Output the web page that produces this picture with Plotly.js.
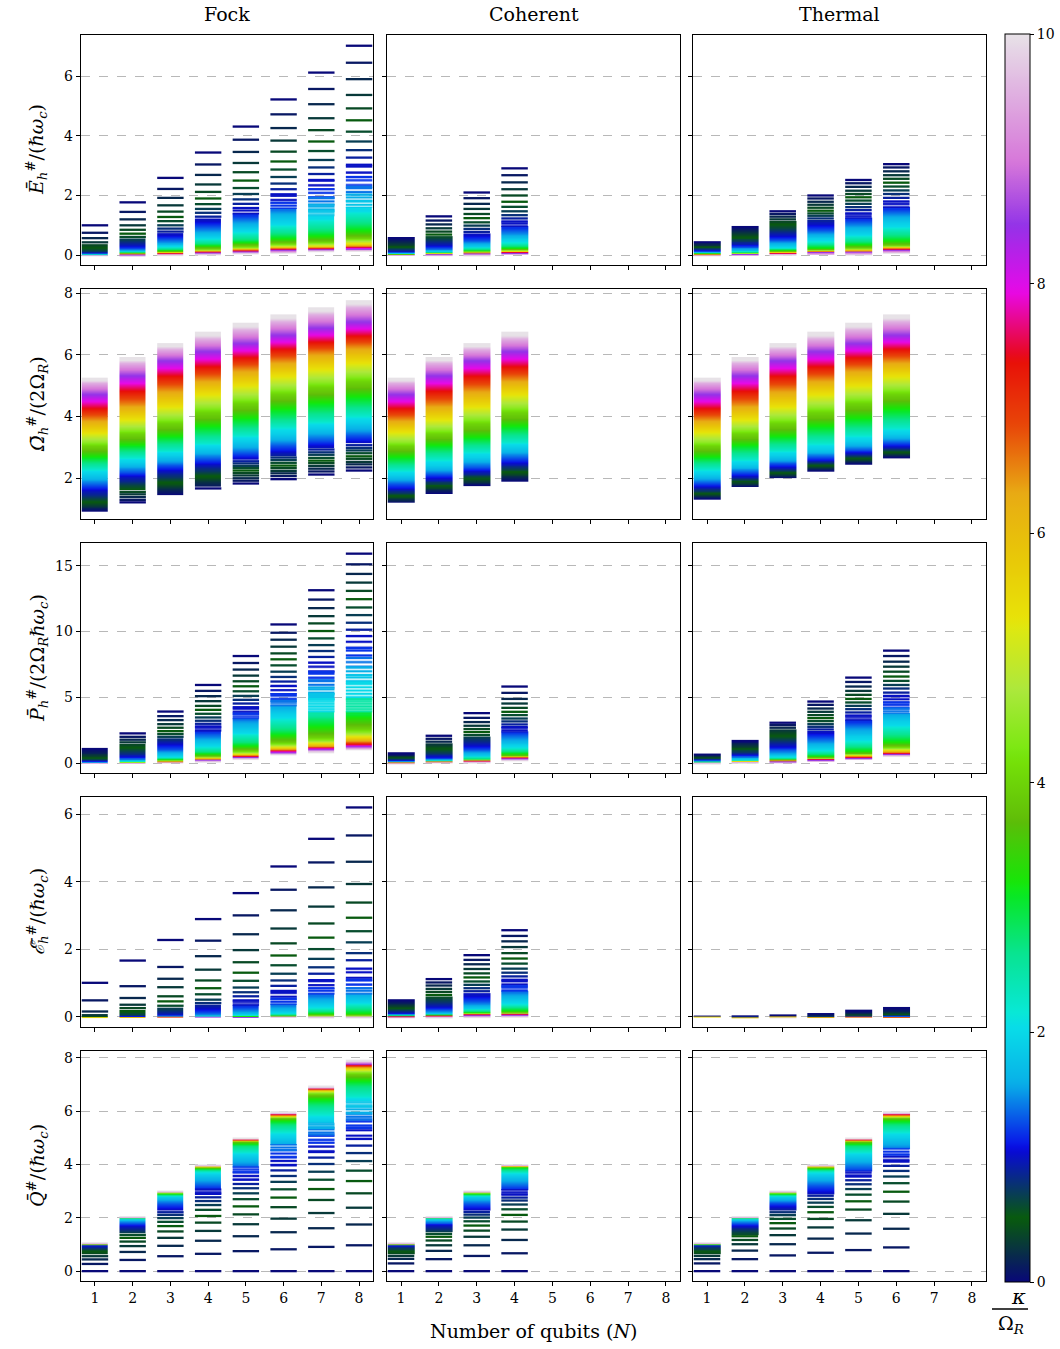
<!DOCTYPE html>
<html><head><meta charset="utf-8">
<script src="https://cdn.plot.ly/plotly-3.0.1.min.js"></script>
<style>html,body{margin:0;padding:0;background:#fff}#chart{width:1060px;height:1349px}</style>
</head><body><div id="chart"></div>
<script>
// coupling levels kappa / Omega_R
const kappa = [0,0.1,0.2,0.3,0.4,0.5,0.6,0.7,0.8,0.9,1,1.2,1.4,1.6,1.8,2,2.5,3,3.5,4,5,6,7,8,9,10];
const qubitTicks = [1,2,3,4,5,6,7,8];

// ---- Row 1: ergotropy E_h / (hbar w_c) ----
const fockE = [
 [1.00,0.75,0.57,0.43,0.33,0.26,0.20,0.16,0.12,0.10,0.08,0.056,0.045,0.035,0.03,0.022,0.017,0.011,0.008,0.006,0.004,0.003,0.002,0.001,0.001,0],
 [1.77,1.45,1.20,1.00,0.85,0.72,0.61,0.52,0.45,0.38,0.32,0.25,0.20,0.17,0.14,0.12,0.10,0.08,0.07,0.06,0.05,0.045,0.035,0.02,0.01,0],
 [2.59,2.22,1.92,1.67,1.46,1.28,1.14,1.00,0.89,0.79,0.70,0.58,0.48,0.40,0.35,0.30,0.22,0.18,0.14,0.12,0.10,0.08,0.07,0.06,0.03,0.02],
 [3.44,3.04,2.69,2.37,2.12,1.90,1.71,1.55,1.42,1.29,1.19,1.03,0.88,0.77,0.68,0.60,0.45,0.35,0.28,0.23,0.18,0.14,0.12,0.10,0.08,0.04],
 [4.31,3.87,3.46,3.09,2.78,2.50,2.25,2.05,1.87,1.72,1.58,1.36,1.19,1.05,0.94,0.84,0.61,0.47,0.38,0.31,0.23,0.19,0.17,0.14,0.11,0.07],
 [5.22,4.72,4.26,3.84,3.47,3.14,2.87,2.62,2.40,2.21,2.04,1.76,1.55,1.38,1.23,1.08,0.80,0.61,0.49,0.41,0.31,0.26,0.22,0.19,0.14,0.10],
 [6.12,5.57,5.06,4.59,4.19,3.81,3.49,3.19,2.94,2.72,2.52,2.21,1.92,1.69,1.49,1.30,0.97,0.71,0.56,0.45,0.33,0.28,0.25,0.22,0.18,0.13],
 [7.02,6.45,5.90,5.37,4.92,4.52,4.14,3.81,3.52,3.27,3.03,2.62,2.29,2.03,1.81,1.58,1.19,0.91,0.71,0.58,0.43,0.36,0.29,0.25,0.20,0.16]
];
const cohE = [
 [0.57,0.50,0.43,0.38,0.32,0.28,0.25,0.21,0.18,0.16,0.13,0.11,0.09,0.08,0.07,0.06,0.045,0.035,0.025,0.02,0.017,0.012,0.008,0.005,0.003,0],
 [1.30,1.16,1.03,0.90,0.79,0.69,0.60,0.52,0.46,0.39,0.33,0.26,0.20,0.17,0.14,0.12,0.10,0.08,0.075,0.07,0.06,0.055,0.045,0.03,0.02,0],
 [2.10,1.91,1.72,1.55,1.38,1.24,1.10,0.99,0.88,0.78,0.69,0.56,0.46,0.38,0.32,0.28,0.21,0.17,0.14,0.12,0.10,0.09,0.08,0.06,0.03,0.01],
 [2.91,2.68,2.44,2.21,2.00,1.79,1.62,1.47,1.34,1.23,1.13,0.94,0.78,0.67,0.57,0.49,0.36,0.27,0.21,0.18,0.14,0.12,0.11,0.10,0.07,0.03]
];
const therE = [
 [0.43,0.40,0.37,0.33,0.30,0.28,0.26,0.23,0.21,0.19,0.17,0.14,0.12,0.11,0.10,0.09,0.07,0.055,0.05,0.045,0.035,0.03,0.02,0.01,0.01,0],
 [0.94,0.87,0.80,0.74,0.67,0.61,0.56,0.50,0.46,0.41,0.37,0.30,0.25,0.20,0.17,0.14,0.11,0.09,0.08,0.07,0.055,0.05,0.045,0.03,0.02,0],
 [1.47,1.38,1.29,1.20,1.11,1.04,0.96,0.88,0.81,0.75,0.68,0.57,0.48,0.40,0.35,0.30,0.22,0.18,0.14,0.13,0.11,0.10,0.08,0.07,0.045,0.01],
 [2.00,1.90,1.79,1.69,1.59,1.49,1.40,1.32,1.23,1.14,1.06,0.90,0.78,0.68,0.60,0.52,0.38,0.28,0.22,0.19,0.16,0.13,0.12,0.11,0.08,0.03],
 [2.52,2.41,2.29,2.16,2.05,1.94,1.83,1.72,1.61,1.51,1.40,1.22,1.06,0.94,0.82,0.72,0.52,0.39,0.31,0.26,0.20,0.17,0.14,0.12,0.09,0.04],
 [3.05,2.94,2.81,2.68,2.56,2.43,2.30,2.17,2.05,1.92,1.80,1.58,1.42,1.27,1.14,1.00,0.75,0.56,0.43,0.36,0.29,0.26,0.22,0.19,0.14,0.09]
];

// ---- Row 2: Omega_h / (2 Omega_R) ----
const fockW = [
 [0.97,1.02,1.07,1.12,1.18,1.24,1.30,1.37,1.44,1.52,1.60,1.74,1.86,1.97,2.08,2.19,2.41,2.64,2.83,3.03,3.34,3.77,4.06,4.56,4.95,5.22],
 [1.22,1.30,1.39,1.48,1.56,1.65,1.73,1.81,1.89,1.96,2.03,2.16,2.27,2.38,2.48,2.57,2.80,3.01,3.21,3.39,3.77,4.20,4.63,5.14,5.57,5.89],
 [1.49,1.56,1.64,1.71,1.79,1.86,1.94,2.01,2.09,2.17,2.23,2.36,2.48,2.59,2.69,2.79,3.02,3.29,3.50,3.72,4.20,4.63,5.12,5.63,6.03,6.34],
 [1.67,1.76,1.84,1.92,1.99,2.07,2.14,2.22,2.30,2.37,2.45,2.57,2.70,2.82,2.93,3.03,3.29,3.59,3.85,4.08,4.58,5.01,5.46,5.92,6.35,6.71],
 [1.83,1.92,2.00,2.09,2.17,2.25,2.33,2.40,2.48,2.55,2.64,2.77,2.90,3.03,3.15,3.26,3.55,3.84,4.12,4.36,4.88,5.31,5.76,6.19,6.62,7.00],
 [1.97,2.07,2.16,2.24,2.33,2.41,2.50,2.59,2.67,2.76,2.84,2.99,3.13,3.26,3.39,3.51,3.82,4.15,4.42,4.66,5.17,5.60,6.03,6.46,6.89,7.27],
 [2.12,2.22,2.31,2.40,2.49,2.57,2.66,2.76,2.84,2.93,3.02,3.17,3.32,3.45,3.58,3.69,4.02,4.34,4.63,4.88,5.42,5.85,6.28,6.68,7.11,7.50],
 [2.25,2.35,2.45,2.53,2.63,2.71,2.81,2.90,2.98,3.07,3.16,3.32,3.47,3.61,3.74,3.87,4.19,4.53,4.82,5.06,5.60,6.08,6.49,6.86,7.32,7.73]
];
const cohW = [
 [1.24,1.27,1.30,1.35,1.39,1.43,1.48,1.52,1.56,1.61,1.66,1.76,1.86,1.96,2.07,2.17,2.40,2.64,2.83,3.03,3.36,3.77,4.06,4.56,4.95,5.22],
 [1.54,1.59,1.63,1.67,1.71,1.76,1.80,1.84,1.89,1.93,1.97,2.08,2.19,2.28,2.38,2.48,2.75,2.99,3.20,3.39,3.77,4.20,4.63,5.14,5.57,5.89],
 [1.78,1.82,1.86,1.91,1.95,1.99,2.04,2.08,2.12,2.17,2.21,2.32,2.42,2.53,2.64,2.75,2.99,3.26,3.49,3.72,4.20,4.63,5.12,5.63,6.03,6.34],
 [1.94,1.99,2.05,2.10,2.16,2.21,2.26,2.32,2.37,2.42,2.49,2.61,2.73,2.84,2.96,3.07,3.33,3.63,3.87,4.08,4.58,5.01,5.46,5.92,6.35,6.71]
];
const therW = [
 [1.35,1.38,1.41,1.44,1.48,1.51,1.55,1.58,1.63,1.67,1.71,1.81,1.91,2.00,2.10,2.20,2.42,2.64,2.83,3.03,3.36,3.77,4.06,4.56,4.95,5.22],
 [1.75,1.78,1.81,1.84,1.88,1.91,1.94,1.97,2.00,2.04,2.07,2.16,2.24,2.33,2.41,2.50,2.75,2.99,3.20,3.39,3.77,4.20,4.63,5.14,5.57,5.89],
 [2.03,2.06,2.09,2.12,2.16,2.19,2.22,2.25,2.28,2.32,2.35,2.43,2.52,2.61,2.69,2.78,3.02,3.29,3.50,3.72,4.20,4.63,5.12,5.63,6.03,6.34],
 [2.26,2.30,2.33,2.35,2.38,2.41,2.45,2.48,2.51,2.54,2.57,2.66,2.75,2.83,2.92,3.01,3.29,3.59,3.85,4.08,4.58,5.01,5.46,5.92,6.35,6.71],
 [2.48,2.51,2.54,2.57,2.61,2.64,2.67,2.70,2.74,2.77,2.80,2.89,2.97,3.07,3.16,3.24,3.55,3.84,4.12,4.36,4.88,5.31,5.76,6.19,6.62,7.00],
 [2.69,2.73,2.76,2.79,2.82,2.85,2.89,2.92,2.95,2.98,3.02,3.11,3.21,3.31,3.40,3.50,3.82,4.15,4.42,4.66,5.17,5.60,6.03,6.46,6.89,7.27]
];

// ---- Row 3: power P_h / (2 Omega_R hbar w_c) ----
const fockP = [
 [1.06,0.88,0.73,0.61,0.51,0.40,0.33,0.28,0.23,0.18,0.15,0.10,0.08,0.05,0.04,0.03,0.025,0.02,0.015,0.012,0.01,0.008,0.006,0.004,0.002,0],
 [2.25,1.99,1.77,1.57,1.36,1.19,1.04,0.88,0.76,0.66,0.56,0.40,0.30,0.23,0.18,0.15,0.10,0.08,0.06,0.05,0.04,0.03,0.02,0.01,0.01,0],
 [3.91,3.56,3.26,2.95,2.68,2.42,2.20,1.99,1.79,1.62,1.46,1.19,0.96,0.78,0.66,0.56,0.38,0.28,0.23,0.20,0.15,0.13,0.10,0.08,0.05,0.03],
 [5.93,5.48,5.08,4.70,4.34,4.04,3.74,3.46,3.21,2.98,2.78,2.37,2.05,1.79,1.57,1.36,1.01,0.76,0.61,0.51,0.40,0.35,0.30,0.25,0.20,0.13],
 [8.13,7.60,7.10,6.64,6.21,5.83,5.45,5.10,4.80,4.52,4.24,3.76,3.33,2.98,2.65,2.37,1.82,1.41,1.14,0.96,0.76,0.66,0.58,0.51,0.43,0.33],
 [10.53,9.90,9.37,8.84,8.33,7.88,7.42,6.94,6.54,6.19,5.86,5.23,4.72,4.29,3.91,3.59,2.83,2.25,1.87,1.57,1.26,1.09,0.98,0.88,0.78,0.63],
 [13.13,12.42,11.77,11.16,10.61,10.03,9.47,8.96,8.51,8.06,7.63,6.92,6.29,5.73,5.23,4.85,3.84,3.01,2.37,1.94,1.57,1.36,1.21,1.11,1.01,0.86],
 [15.91,15.10,14.37,13.71,13.08,12.45,11.82,11.24,10.66,10.13,9.65,8.74,7.98,7.27,6.67,6.11,4.85,3.84,3.08,2.58,2.07,1.77,1.52,1.36,1.24,1.06]
];
const cohP = [
 [0.73,0.66,0.58,0.51,0.45,0.40,0.35,0.30,0.28,0.25,0.23,0.18,0.15,0.13,0.10,0.09,0.08,0.05,0.045,0.04,0.03,0.03,0.02,0.01,0.01,0],
 [2.07,1.84,1.62,1.41,1.24,1.09,0.93,0.81,0.71,0.61,0.53,0.40,0.33,0.28,0.23,0.20,0.18,0.15,0.14,0.13,0.12,0.10,0.09,0.08,0.05,0.03],
 [3.79,3.43,3.11,2.83,2.58,2.35,2.12,1.92,1.74,1.57,1.41,1.14,0.91,0.76,0.63,0.53,0.38,0.30,0.28,0.25,0.23,0.20,0.18,0.15,0.10,0.05],
 [5.81,5.33,4.87,4.52,4.19,3.89,3.64,3.38,3.16,2.93,2.73,2.32,1.99,1.72,1.49,1.31,0.98,0.78,0.66,0.58,0.51,0.45,0.43,0.40,0.33,0.23]
];
const therP = [
 [0.63,0.58,0.53,0.48,0.43,0.40,0.35,0.33,0.30,0.28,0.25,0.20,0.18,0.15,0.13,0.11,0.10,0.08,0.06,0.05,0.05,0.04,0.03,0.02,0.01,0],
 [1.67,1.57,1.44,1.31,1.21,1.11,1.01,0.91,0.83,0.76,0.68,0.56,0.45,0.38,0.33,0.28,0.20,0.18,0.16,0.15,0.13,0.12,0.10,0.09,0.08,0.03],
 [3.06,2.88,2.68,2.47,2.30,2.12,1.94,1.79,1.64,1.49,1.34,1.11,0.91,0.76,0.63,0.53,0.38,0.30,0.25,0.23,0.20,0.18,0.15,0.13,0.10,0.05],
 [4.67,4.42,4.14,3.89,3.64,3.41,3.18,2.95,2.75,2.55,2.35,2.02,1.72,1.46,1.24,1.06,0.76,0.56,0.45,0.40,0.35,0.33,0.30,0.28,0.23,0.15],
 [6.49,6.16,5.81,5.48,5.18,4.87,4.60,4.34,4.09,3.84,3.61,3.18,2.80,2.45,2.15,1.89,1.36,1.04,0.83,0.73,0.61,0.53,0.48,0.43,0.38,0.30],
 [8.54,8.13,7.70,7.32,6.94,6.57,6.24,5.93,5.66,5.35,5.10,4.60,4.14,3.71,3.33,3.01,2.32,1.82,1.44,1.24,1.01,0.91,0.81,0.73,0.66,0.56]
];

// ---- Row 4: script-E_h / (hbar w_c) ----
const fockS = [
 [1.01,0.49,0.16,0.05,0.02,0.01,0.005,0.003,0.002,0.001,0.001,0,0,0,0,0,0,0,0,0,0,0,0,0,0,0],
 [1.67,0.91,0.56,0.36,0.26,0.17,0.11,0.07,0.04,0.03,0.02,0.01,0.005,0.003,0.002,0.001,0,0,0,0,0,0,0,0,0,0],
 [2.28,1.48,1.13,0.88,0.61,0.46,0.33,0.24,0.17,0.12,0.08,0.05,0.03,0.02,0.01,0.008,0.005,0.003,0.002,0.001,0,0,0,0,0,0],
 [2.90,2.26,1.80,1.40,1.08,0.85,0.67,0.51,0.41,0.33,0.26,0.15,0.09,0.06,0.04,0.03,0.02,0.01,0.007,0.005,0.003,0.002,0.001,0,0,0],
 [3.67,3.01,2.45,1.98,1.62,1.31,1.07,0.87,0.73,0.61,0.49,0.32,0.20,0.13,0.09,0.06,0.03,0.02,0.01,0.007,0.004,0.002,0.001,0,0,0],
 [4.46,3.77,3.16,2.62,2.18,1.82,1.53,1.28,1.08,0.92,0.77,0.54,0.36,0.26,0.19,0.14,0.08,0.05,0.03,0.02,0.01,0.005,0.003,0.002,0.001,0],
 [5.28,4.58,3.84,3.27,2.77,2.35,2.01,1.72,1.47,1.28,1.09,0.85,0.66,0.51,0.40,0.32,0.19,0.11,0.07,0.05,0.03,0.02,0.01,0.005,0.003,0],
 [6.21,5.38,4.60,3.94,3.39,2.94,2.54,2.21,1.89,1.68,1.43,1.10,0.85,0.66,0.53,0.45,0.30,0.15,0.08,0.04,0.015,0.008,0.005,0.003,0.002,0]
];
const cohS = [
 [0.49,0.44,0.39,0.34,0.31,0.27,0.23,0.20,0.17,0.15,0.13,0.10,0.08,0.07,0.06,0.05,0.04,0.03,0.025,0.02,0.015,0.01,0.008,0.005,0.003,0],
 [1.12,1.02,0.93,0.83,0.74,0.65,0.57,0.50,0.43,0.37,0.33,0.25,0.19,0.15,0.12,0.10,0.07,0.06,0.055,0.05,0.045,0.04,0.035,0.03,0.02,0],
 [1.83,1.69,1.56,1.42,1.29,1.17,1.05,0.95,0.85,0.76,0.67,0.53,0.42,0.34,0.29,0.25,0.18,0.14,0.12,0.11,0.10,0.09,0.08,0.06,0.04,0.01],
 [2.57,2.40,2.24,2.07,1.89,1.73,1.58,1.43,1.31,1.20,1.10,0.91,0.74,0.61,0.51,0.43,0.30,0.22,0.17,0.14,0.11,0.10,0.09,0.07,0.05,0.02]
];
const therS = [
 [0.005,0.004,0.003,0.003,0.002,0.002,0.002,0.001,0.001,0.001,0.001,0,0,0,0,0,0,0,0,0,0,0,0,0,0,0],
 [0.012,0.01,0.008,0.006,0.005,0.004,0.003,0.003,0.002,0.002,0.002,0.001,0.001,0.001,0,0,0,0,0,0,0,0,0,0,0,0],
 [0.04,0.03,0.022,0.016,0.012,0.009,0.007,0.005,0.004,0.003,0.003,0.002,0.001,0.001,0.001,0,0,0,0,0,0,0,0,0,0,0],
 [0.08,0.06,0.045,0.035,0.027,0.02,0.016,0.013,0.01,0.008,0.006,0.004,0.003,0.002,0.002,0.001,0.001,0,0,0,0,0,0,0,0,0],
 [0.18,0.14,0.11,0.085,0.065,0.05,0.04,0.03,0.025,0.02,0.015,0.01,0.007,0.005,0.004,0.003,0.002,0.001,0.001,0,0,0,0,0,0,0],
 [0.26,0.21,0.17,0.135,0.105,0.085,0.067,0.053,0.042,0.033,0.026,0.017,0.012,0.008,0.006,0.004,0.002,0.001,0.001,0,0,0,0,0,0,0]
];

// ---- Row 5: heat Q / (hbar w_c) ----
const fockQ = [
 [0,0.27,0.44,0.56,0.66,0.74,0.80,0.85,0.89,0.92,0.95,0.97,0.99,0.99,1.0,1.0,1.0,1.0,1.0,1.0,1.0,1.0,1.01,1.01,1.02,1.04],
 [0,0.42,0.72,0.94,1.11,1.25,1.36,1.46,1.55,1.62,1.69,1.77,1.85,1.90,1.94,1.95,1.97,1.98,1.99,1.99,1.99,1.99,2.0,2.0,2.0,2.02],
 [0,0.56,0.95,1.25,1.49,1.69,1.85,1.99,2.11,2.21,2.31,2.46,2.58,2.68,2.76,2.81,2.87,2.91,2.92,2.93,2.94,2.95,2.95,2.96,2.96,2.98],
 [0,0.65,1.14,1.51,1.82,2.07,2.30,2.48,2.63,2.77,2.90,3.11,3.30,3.46,3.58,3.67,3.80,3.86,3.88,3.90,3.91,3.92,3.93,3.93,3.94,3.96],
 [0,0.75,1.31,1.76,2.13,2.43,2.70,2.92,3.11,3.27,3.43,3.71,3.93,4.12,4.27,4.39,4.62,4.77,4.83,4.87,4.89,4.91,4.92,4.93,4.94,4.97],
 [0,0.82,1.46,1.97,2.40,2.76,3.07,3.35,3.57,3.78,3.97,4.27,4.54,4.77,4.96,5.12,5.39,5.62,5.72,5.77,5.82,5.84,5.87,5.89,5.92,5.96],
 [0,0.91,1.61,2.18,2.67,3.08,3.43,3.73,4.02,4.26,4.47,4.82,5.13,5.37,5.57,5.74,6.08,6.39,6.54,6.64,6.74,6.79,6.83,6.85,6.88,6.92],
 [0,0.97,1.75,2.38,2.92,3.38,3.77,4.13,4.43,4.71,4.96,5.37,5.69,5.92,6.17,6.39,6.77,7.12,7.27,7.39,7.54,7.64,7.70,7.77,7.83,7.89]
];
const cohQ = [
 [0,0.29,0.46,0.57,0.67,0.75,0.81,0.86,0.90,0.92,0.95,0.97,0.99,0.99,1.0,1.0,1.0,1.0,1.0,1.0,1.0,1.0,1.01,1.01,1.02,1.04],
 [0,0.45,0.76,0.97,1.15,1.29,1.40,1.50,1.57,1.65,1.71,1.78,1.85,1.90,1.94,1.95,1.97,1.98,1.99,1.99,1.99,1.99,2.0,2.0,2.0,2.02],
 [0,0.57,0.97,1.29,1.52,1.71,1.87,2.01,2.12,2.22,2.32,2.46,2.58,2.68,2.76,2.81,2.87,2.91,2.92,2.93,2.94,2.95,2.95,2.96,2.96,2.98],
 [0,0.67,1.17,1.56,1.86,2.11,2.32,2.50,2.65,2.76,2.87,3.08,3.27,3.42,3.55,3.65,3.80,3.87,3.90,3.91,3.92,3.93,3.93,3.94,3.95,3.97]
];
const therQ = [
 [0,0.29,0.45,0.57,0.67,0.75,0.81,0.86,0.90,0.94,0.96,0.98,0.99,0.99,1.0,1.0,1.0,1.0,1.0,1.0,1.0,1.01,1.01,1.02,1.03,1.04],
 [0,0.45,0.77,1.01,1.17,1.31,1.41,1.50,1.57,1.64,1.69,1.77,1.85,1.90,1.94,1.95,1.97,1.98,1.99,1.99,1.99,1.99,2.0,2.0,2.0,2.02],
 [0,0.59,1.01,1.35,1.60,1.80,1.96,2.10,2.21,2.31,2.40,2.52,2.62,2.70,2.77,2.81,2.87,2.91,2.92,2.93,2.94,2.95,2.95,2.96,2.96,2.98],
 [0,0.69,1.22,1.64,1.96,2.21,2.41,2.57,2.71,2.83,2.93,3.12,3.30,3.45,3.57,3.66,3.80,3.86,3.88,3.90,3.91,3.92,3.93,3.93,3.94,3.96],
 [0,0.79,1.41,1.91,2.31,2.62,2.87,3.08,3.26,3.41,3.55,3.77,3.96,4.12,4.27,4.39,4.62,4.77,4.83,4.87,4.89,4.91,4.92,4.93,4.94,4.97],
 [0,0.89,1.59,2.15,2.61,2.98,3.30,3.55,3.76,3.95,4.11,4.37,4.61,4.79,4.96,5.12,5.39,5.62,5.72,5.77,5.82,5.84,5.87,5.89,5.92,5.96]
];

const colTitles = ['Fock','Coherent','Thermal'];
const rowTitles = [
 '<i>Ē</i><sub><i>h</i></sub><sup>#</sup>/(<i>ℏω</i><sub><i>c</i></sub>)',
 '<i>Ω̄</i><sub><i>h</i></sub><sup>#</sup>/(2Ω<sub><i>R</i></sub>)',
 '<i>P̄</i><sub><i>h</i></sub><sup>#</sup>/(2Ω<sub><i>R</i></sub><i>ℏω</i><sub><i>c</i></sub>)',
 '<i>ℰ̄</i><sub><i>h</i></sub><sup>#</sup>/(<i>ℏω</i><sub><i>c</i></sub>)',
 '<i>Q̄</i><sup>#</sup>/(<i>ℏω</i><sub><i>c</i></sub>)'
];
const rowRanges = [[-0.33,7.38],[0.68,8.13],[-0.76,16.72],[-0.30,6.52],[-0.37,8.26]];
const rowTicks = [[0,2,4,6],[2,4,6,8],[0,5,10,15],[0,2,4,6],[0,2,4,6,8]];
const cbTicks = [0,2,4,6,8,10];
const panels = [[fockE,cohE,therE],[fockW,cohW,therW],[fockP,cohP,therP],[fockS,cohS,therS],[fockQ,cohQ,therQ]];

// ---- gist_ncar colormap definition (slightly muted as in the printed figure) ----
const ncR = [[0,0],[0.3098,0],[0.3725,0.3993],[0.4235,0.5003],[0.5333,1],[0.7922,1],[0.8471,0.6218],[0.898,0.9235],[1,0.9961]];
const ncG = [[0,0],[0.051,0.3722],[0.1059,0],[0.1569,0.7202],[0.1608,0.7537],[0.1647,0.7752],[0.2157,1],[0.2588,0.9804],[0.2706,0.9804],[0.3176,1],[0.3686,0.8081],[0.4275,1],[0.5216,1],[0.6314,0.7292],[0.6863,0.2796],[0.7451,0],[0.7922,0],[0.8431,0.1753],[0.898,0.5],[1,0.9725]];
const ncB = [[0,0.502],[0.051,0.0222],[0.1098,1],[0.2039,1],[0.2627,0.6145],[0.3216,0],[0.4157,0],[0.4745,0.2342],[0.5333,0],[0.5804,0],[0.6314,0.0549],[0.6902,0],[0.7373,0],[0.7922,0.9738],[0.8,1],[0.8431,1],[0.898,0.9341],[1,0.9961]];
function itp(tab,t){for(let i=1;i<tab.length;i++){if(t<=tab[i][0]){const a=tab[i-1],b=tab[i];return a[1]+(b[1]-a[1])*(t-a[0])/(b[0]-a[0]);}}return tab[tab.length-1][1];}
const ch=v=>Math.round(255*(0.03+0.88*v));
function cmap(k){const t=Math.max(0,Math.min(1,k/10));return 'rgb('+ch(itp(ncR,t))+','+ch(itp(ncG,t))+','+ch(itp(ncB,t))+')';}
const cscale=[];
for(let i=0;i<=250;i++){cscale.push([i/250,cmap(10*i/250)]);}

// ---- layout geometry (pixels) ----
const W=1060,H=1349;
const colX=[[81,373],[387,680],[693,986]];
const rowTop=[35,289,543,797,1051], panelH=230;
const lineT=2.3;      // px thickness of one level line
const denseSp=2.6;    // px spacing per 0.1 step below which lines merge
const halfW=0.35;     // half width of a level segment (in N units)
const FONT='DejaVu Serif, Liberation Serif, serif';

const data=[], layout={
  width:W,height:H,margin:{l:0,r:0,t:0,b:0},paper_bgcolor:'#fff',plot_bgcolor:'#fff',
  barmode:'overlay',showlegend:false,font:{family:FONT,color:'#000',size:14},
  annotations:[],shapes:[]
};

for(let r=0;r<5;r++){
  for(let c=0;c<3;c++){
    const p=r*3+c, id=p+1, xs='x'+(id===1?'':id), ys='y'+(id===1?'':id);
    const rng=rowRanges[r], ppu=panelH/(rng[1]-rng[0]), t=lineT/ppu;
    const X=[],B=[],Hh=[],COL=[],SH=[],SZ=[],SO=[];
    const addBar=(N,lo,hi,k,shape,size,sol)=>{X.push(N);B.push(lo);Hh.push(hi-lo);COL.push(cmap(k));SH.push(shape);SZ.push(size);SO.push(sol);};
    panels[r][c].forEach((vals,j)=>{
      const N=qubitTicks[j], L=vals.length;
      const sp=[];
      for(let i=0;i<L-1;i++){const n=Math.max(1,Math.round((kappa[i+1]-kappa[i])/0.1));sp.push(Math.abs(vals[i+1]-vals[i])*ppu/n);}
      let d=L-1; while(d>0 && sp[d-1]<denseSp) d--;
      const lastSparse=(d>=L-1)?L-1:d-1;
      for(let i=0;i<=lastSparse;i++){
        const v=vals[i];
        if(kappa[i]>=1 && i<L-1){
          const vn=vals[i+1], lo=Math.min(v,vn), hi=Math.max(v,vn);
          if(sp[i]<denseSp) addBar(N,lo-t/2,hi+t/2,kappa[i],'',8,0.3);
          else if(sp[i]<40) addBar(N,lo,hi,kappa[i],'-',sp[i],Math.min(0.9,lineT/sp[i]));
        }
        addBar(N,v-t/2,v+t/2,kappa[i],'',8,0.3);
      }
      if(d<L-1){
        let pts=[];
        for(let i=d;i<L;i++) pts.push([vals[i],kappa[i]]);
        pts.sort((a,b)=>a[0]-b[0]);
        const u=[];
        pts.forEach(q=>{ if(u.length && Math.abs(q[0]-u[u.length-1][0])<1e-6){ if(q[1]>u[u.length-1][1]) u[u.length-1]=q; } else u.push(q); });
        if(u.length>=2){
          const ye=[u[0][0]-t/2];
          for(let m=1;m<u.length;m++) ye.push((u[m-1][0]+u[m][0])/2);
          ye.push(u[u.length-1][0]+t/2);
          data.push({type:'heatmap',xaxis:xs,yaxis:ys,x:[N-halfW,N,N+halfW],y:ye,z:u.map(q=>[q[1],q[1]]),
            zmin:0,zmax:10,colorscale:cscale,zsmooth:'best',showscale:false,hoverinfo:'skip'});
        } else {
          addBar(N,u[0][0]-t/2,u[0][0]+t/2,u[0][1],'',8,0.3);
        }
      }
    });
    data.push({type:'bar',x:X,y:Hh,base:B,width:2*halfW,xaxis:xs,yaxis:ys,hoverinfo:'skip',
      marker:{color:COL,line:{width:0},pattern:{shape:SH,size:SZ,solidity:SO,fgcolor:COL,bgcolor:'rgba(0,0,0,0)',fillmode:'replace'}}});
    const xa='xaxis'+(id===1?'':id), ya='yaxis'+(id===1?'':id);
    layout[xa]={domain:[colX[c][0]/W,colX[c][1]/W],anchor:ys,range:[0.63,8.37],tickvals:qubitTicks,
      ticks:'outside',ticklen:4,tickwidth:1,tickcolor:'#000',showline:true,mirror:true,linecolor:'#000',linewidth:1.4,
      showgrid:false,zeroline:false,showticklabels:(r===4),tickfont:{family:FONT,size:14,color:'#000'},fixedrange:true};
    layout[ya]={domain:[1-(rowTop[r]+panelH)/H,1-rowTop[r]/H],anchor:xs,range:rng,tickvals:rowTicks[r],
      ticks:'outside',ticklen:4,tickwidth:1,tickcolor:'#000',showline:true,mirror:true,linecolor:'#000',linewidth:1.4,
      showgrid:true,gridcolor:'#b8b8b8',griddash:'dash',gridwidth:1,zeroline:false,
      showticklabels:(c===0),tickfont:{family:FONT,size:14,color:'#000'},fixedrange:true};
  }
}
// colour bar (carried by an off-range heatmap)
data.push({type:'heatmap',xaxis:'x',yaxis:'y',x:[-10,-9],y:[-10,-9],z:[[0,10],[0,10]],zmin:0,zmax:10,colorscale:cscale,hoverinfo:'skip',
  showscale:true,colorbar:{x:1005/W,xanchor:'left',xpad:0,y:1-658/H,yanchor:'middle',ypad:0,
    len:1248,lenmode:'pixels',thickness:25,thicknessmode:'pixels',outlinewidth:1,outlinecolor:'#000',
    tickvals:cbTicks,ticktext:cbTicks.map(String),ticks:'outside',ticklen:4,tickwidth:1,tickcolor:'#000',
    tickfont:{family:FONT,size:14,color:'#000'}}});

colTitles.forEach((s,c)=>layout.annotations.push({text:s,xref:'paper',yref:'paper',x:(colX[c][0]+colX[c][1])/2/W,y:1-14/H,
  xanchor:'center',yanchor:'middle',showarrow:false,font:{family:FONT,size:19,color:'#000'}}));
rowTitles.forEach((s,r)=>layout.annotations.push({text:s,xref:'paper',yref:'paper',x:37/W,y:1-(rowTop[r]+panelH/2)/H,
  xanchor:'center',yanchor:'middle',textangle:-90,showarrow:false,font:{family:FONT,size:19,color:'#000'}}));
layout.annotations.push({text:'Number of qubits (<i>N</i>)',xref:'paper',yref:'paper',x:(colX[1][0]+colX[1][1])/2/W,y:1-1331/H,
  xanchor:'center',yanchor:'middle',showarrow:false,font:{family:FONT,size:19,color:'#000'}});
layout.annotations.push({text:'<i>κ</i>',xref:'paper',yref:'paper',x:1018/W,y:1-1297/H,xanchor:'center',yanchor:'middle',showarrow:false,font:{family:FONT,size:21,color:'#000'}});
layout.annotations.push({text:'Ω<sub><i>R</i></sub>',xref:'paper',yref:'paper',x:1011/W,y:1-1324/H,xanchor:'center',yanchor:'middle',showarrow:false,font:{family:FONT,size:19,color:'#000'}});
layout.shapes.push({type:'line',xref:'paper',yref:'paper',x0:992/W,x1:1028/W,y0:1-1309/H,y1:1-1309/H,line:{color:'#000',width:1.5}});

Plotly.newPlot('chart',data,layout,{staticPlot:true,displayModeBar:false});
</script></body></html>
